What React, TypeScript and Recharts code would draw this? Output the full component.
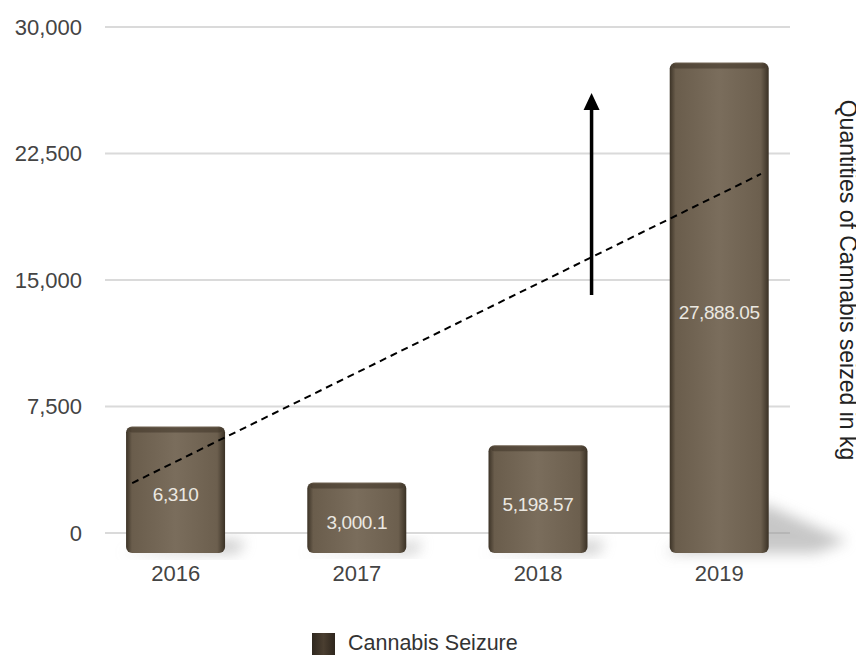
import React from "react";
import {
  Bar,
  BarChart,
  CartesianGrid,
  LabelList,
  Legend,
  ReferenceLine,
  XAxis,
  YAxis,
} from "recharts";

// ─── data ────────────────────────────────────────────────────────────────
const years = ["2016", "2017", "2018", "2019"];
const seizures = [6310, 3000.1, 5198.57, 27888.05];
const yTicks = [0, 7500, 15000, 22500, 30000];
const xTicks = [0, 1, 2, 3];

// annotations, in data units (x = year index, y = kg)
const trendX = [-0.24, 3.23];
const trendY = [2960, 21290];
const arrowX = 2.295;
const arrowY = [14110, 26090];

const FONT = "'Liberation Sans', Arial, Helvetica, sans-serif";
const BAR_DROP = 20; // bars sink a bit below the zero line (3D look)

const data = years.map((year, i) => ({ idx: i, year, kg: seizures[i] }));

function fmt(v: number) {
  return v.toLocaleString("en-US", { maximumFractionDigits: 2 });
}

function BarShape(props: any) {
  const { x, y, width, height } = props;
  const h = height + BAR_DROP;
  const bottom = y + h;
  const right = x + width;
  const sh = Math.max(h * 0.1, 8);
  const sl = Math.max(h * 0.16, 16);
  return (
    <g>
      <polygon
        points={`${right - 4},${bottom - sh} ${right + sl},${bottom - 12} ${right + sl * 0.6},${bottom} ${x - 6},${bottom}`}
        fill="#9a9a9a"
        opacity={0.55}
        filter="url(#soft)"
      />
      <rect x={x} y={y} width={width} height={h} rx={6} ry={6} fill="url(#barBody)" />
      <rect x={x + 3} y={y + 1} width={width - 6} height={5} rx={3} fill="#3f3528" opacity={0.55} />
    </g>
  );
}

function BarLabel(props: any) {
  const { x, y, width, height, value } = props;
  return (
    <text
      x={x + width / 2}
      y={y + (height + BAR_DROP) / 2 + 5}
      textAnchor="middle"
      dominantBaseline="central"
      fill="#ebe8e1"
      fontSize={19}
      fontFamily={FONT}
      letterSpacing={-0.4}
    >
      {fmt(value)}
    </text>
  );
}

function Arrow(props: any) {
  const { x1, y1, x2, y2 } = props;
  const tip = Math.min(y1, y2);
  const base = Math.max(y1, y2);
  return (
    <g>
      <line x1={x1} y1={base} x2={x2} y2={tip + 14} stroke="#000" strokeWidth={3.5} />
      <polygon points={`${x2},${tip} ${x2 - 8},${tip + 17} ${x2 + 8},${tip + 17}`} fill="#000" />
    </g>
  );
}

function LegendContent() {
  return (
    <div style={{ display: "flex", alignItems: "center", fontFamily: FONT }}>
      <span
        style={{
          width: 23,
          height: 22,
          background: "linear-gradient(90deg,#2f281f,#4a3e30,#2e261d)",
          display: "inline-block",
          marginRight: 13,
        }}
      />
      <span style={{ fontSize: 21.5, color: "#333" }}>Cannabis Seizure</span>
    </div>
  );
}

function RightLabel(props: any) {
  const { viewBox } = props;
  const cx = viewBox.x + viewBox.width / 2 + 21;
  const cy = viewBox.y + viewBox.height / 2;
  return (
    <text
      x={cx}
      y={cy}
      transform={`rotate(90, ${cx}, ${cy})`}
      textAnchor="middle"
      dominantBaseline="central"
      fill="#222"
      fontSize={23}
      fontFamily={FONT}
    >
      Quantities of Cannabis seized in kg
    </text>
  );
}

export default function App() {
  return (
    <div style={{ width: 856, height: 647 }}>
      <BarChart
        width={856}
        height={647}
        data={data}
        margin={{ top: 19, right: 0, bottom: 72, left: 0 }}
      >
        <defs>
          <linearGradient id="barBody" x1="0" y1="0" x2="1" y2="0">
            <stop offset="0%" stopColor="#3c3327" />
            <stop offset="6%" stopColor="#6a5d4c" />
            <stop offset="50%" stopColor="#7a6d5c" />
            <stop offset="92%" stopColor="#6c5f4e" />
            <stop offset="100%" stopColor="#3a3125" />
          </linearGradient>
          <filter id="soft" x="-50%" y="-50%" width="200%" height="200%">
            <feGaussianBlur stdDeviation="7" />
          </filter>
        </defs>
        <CartesianGrid vertical={false} stroke="#dadada" strokeWidth={2} />
        <XAxis
          dataKey="idx"
          type="number"
          domain={[-0.39, 3.39]}
          ticks={xTicks}
          tickFormatter={(v: number) => years[v]}
          axisLine={false}
          tickLine={false}
          tickSize={0}
          tickMargin={32}
          height={50}
          tick={{ fill: "#444", fontSize: 22, fontFamily: FONT }}
        />
        <YAxis
          domain={[0, 30000]}
          ticks={yTicks}
          tickFormatter={(v: number) => fmt(v)}
          axisLine={false}
          tickLine={false}
          tickSize={0}
          tickMargin={23}
          width={97}
          tick={{ fill: "#444", fontSize: 22, fontFamily: FONT }}
        />
        <YAxis
          yAxisId="r"
          orientation="right"
          domain={[0, 30000]}
          width={74}
          tick={false}
          axisLine={false}
          tickLine={false}
          label={{ content: RightLabel }}
        />
        <Legend
          layout="horizontal"
          verticalAlign="middle"
          align="center"
          content={LegendContent}
          wrapperStyle={{ position: "absolute", left: 304, top: 623, width: 260, height: 24 }}
        />
        <Bar dataKey="kg" barSize={99} shape={BarShape} isAnimationActive={false}>
          <LabelList dataKey="kg" content={BarLabel} />
        </Bar>
        <ReferenceLine
          segment={[
            { x: trendX[0], y: trendY[0] },
            { x: trendX[1], y: trendY[1] },
          ]}
          stroke="#000"
          strokeWidth={2}
          strokeDasharray="7 5"
          ifOverflow="visible"
        />
        <ReferenceLine
          segment={[
            { x: arrowX, y: arrowY[0] },
            { x: arrowX, y: arrowY[1] },
          ]}
          shape={Arrow}
          ifOverflow="visible"
        />
      </BarChart>
    </div>
  );
}
